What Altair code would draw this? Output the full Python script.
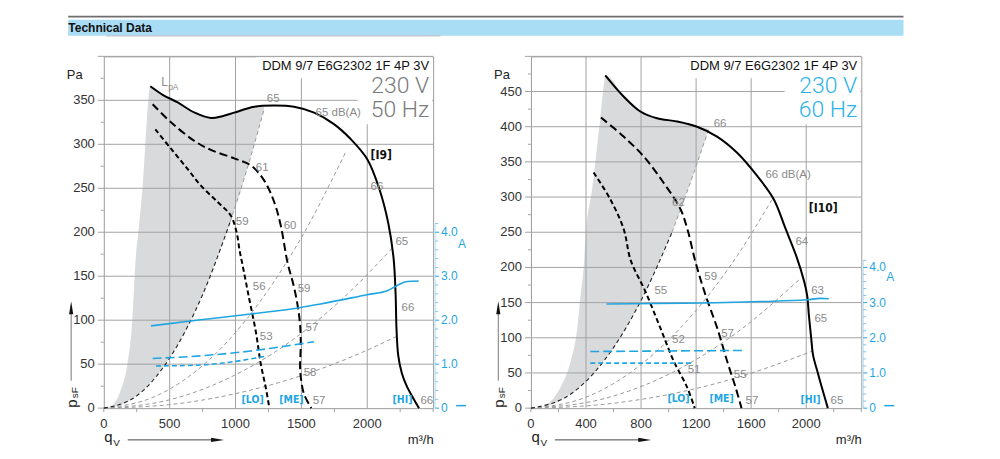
import altair as alt
import pandas as pd

FONT = "Liberation Sans"
NARROW = "'DejaVu Sans Condensed', 'Liberation Sans'"
GRID = "#a3a3a3"
GRAYTXT = "#8a8a8a"
BLUE = "#1fa6e2"
SHADE = "#d9dadc"
PA_PER_AMP = 50  # the current axis is drawn so that 1 A sits at 50 Pa

# ---------------- LEFT PANEL : 230 V 50 Hz ----------------
L_XMAX, L_YMAX = 2500, 400
L_XTICKS = [0, 500, 1000, 1500, 2000]
L_XGRID = [500, 1000, 1500, 2000]
L_XMINOR = [0, 250, 750, 1250, 1750, 2250, 2500]
L_YTICKS = [0, 50, 100, 150, 200, 250, 300, 350]
L_YGRID = [50, 100, 150, 200, 250, 300, 350, 400]
L_YMINOR = [25, 75, 125, 175, 225, 275, 325, 375]

L_SHADE_X = [0, 60, 118, 182, 212, 227, 240, 262, 295, 328, 353, 450, 561, 690, 813, 900, 990, 1100, 1217]
L_SHADE_TOP = [0, 3, 16, 53, 91, 129, 165, 200, 253, 329, 366, 356, 347.6, 336, 330, 332, 336, 341, 343]
L_SHADE_BOT = [0, 0.8, 3.2, 7.6, 10.3, 11.8, 13.2, 15.8, 20, 24.7, 28.7, 46.6, 72, 109, 152, 186, 225, 278, 340]

L_HI_X = [353, 450, 561, 690, 813, 900, 990, 1141, 1293, 1444, 1596, 1747, 1874, 2000, 2090, 2160, 2200, 2215, 2222, 2235, 2262, 2300, 2350, 2393]
L_HI_Y = [366, 356, 347.6, 336, 330, 332, 336, 342.7, 344, 342.7, 336, 323, 306, 283, 250, 210, 170, 130, 90, 60, 40, 25, 11, 0]
L_ME_X = [371, 510, 686, 813, 990, 1116, 1217, 1293, 1343, 1394, 1440, 1470, 1490, 1495, 1490, 1500, 1520, 1575]
L_ME_Y = [345.6, 325, 304, 293.6, 284, 276, 259, 234.5, 208, 166, 140, 118, 95, 72, 45, 30, 16, 0]
L_LO_X = [391, 510, 636, 737, 864, 964, 1008, 1030, 1053, 1103, 1154, 1192, 1230, 1257]
L_LO_Y = [317, 295, 272, 253, 234.5, 219, 200, 180, 163, 125, 87, 50, 23, 0]

L_SYS_DARK_X = [0, 250, 500, 750, 960]
L_SYS_DARK_Y = [0, 14, 57, 129, 212]
L_SYS_TOP_X = [960, 1100, 1217]
L_SYS_TOP_Y = [212, 278, 340]
L_SYS1_X = [0, 400, 800, 1200, 1500, 1836]
L_SYS1_Y = [0, 14, 55, 124, 194, 291]
L_SYS2_X = [0, 500, 1000, 1500, 1900, 2202]
L_SYS2_Y = [0, 9.5, 38, 85, 137, 184]
L_SYS3_X = [0, 500, 1000, 1500, 2000, 2227]
L_SYS3_Y = [0, 4, 16.5, 37, 66, 82]

L_CUR_HI_X = [358, 737, 1116, 1495, 1646, 2000, 2152, 2227, 2303, 2391]
L_CUR_HI_A = [1.87, 2.01, 2.14, 2.29, 2.37, 2.58, 2.67, 2.79, 2.88, 2.89]
L_CUR_ME_X = [371, 737, 1116, 1400, 1596]
L_CUR_ME_A = [1.13, 1.19, 1.30, 1.42, 1.51]
L_CUR_LO_X = [396, 737, 990, 1242]
L_CUR_LO_A = [0.96, 0.98, 1.06, 1.19]

L_LBL_T = ["65", "65 dB(A)", "61", "66", "59", "60", "65", "56", "59", "66", "57", "53", "58", "57", "66"]
L_LBL_X = [1237, 1608, 1154, 2025, 1002, 1366, 2214, 1131, 1472, 2260, 1532, 1184, 1517, 1586, 2404]
L_LBL_Y = [352, 336, 273, 251, 212, 207.6, 189, 138, 135, 114, 91, 81, 40, 8, 8]
L_BR_T = ["[LO]", "[ME]", "[HI]"]
L_BR_XEND = [1214, 1517, 2343]
L_BR_Y = [9, 9, 9]

# ---------------- RIGHT PANEL : 230 V 60 Hz ----------------
R_XMAX, R_YMAX = 2400, 500
R_XTICKS = [0, 400, 800, 1200, 1600, 2000]
R_XGRID = [400, 800, 1200, 1600, 2000]
R_XMINOR = [0, 200, 600, 1000, 1400, 1800, 2200, 2400]
R_YTICKS = [0, 50, 100, 150, 200, 250, 300, 350, 400, 450]
R_YGRID = [50, 100, 150, 200, 250, 300, 350, 400, 450, 500]
R_YMINOR = [25, 75, 125, 175, 225, 275, 325, 375, 425, 475]

R_SHADE_X = [0, 68, 215, 289, 337, 361, 386, 394, 448, 503, 545, 673, 795, 916, 1061, 1207, 1292]
R_SHADE_TOP = [0, 1.4, 29.6, 67, 114, 161, 208, 235, 316, 410, 473, 443, 421.6, 412, 407.5, 400, 397]
R_SHADE_BOT = [0, 1.1, 11, 20, 27, 31, 35.6, 37, 48, 60.5, 71, 108, 151, 200.5, 269, 348, 397]

R_HI_X = [540, 673, 795, 916, 1061, 1207, 1352, 1498, 1644, 1764, 1850, 1930, 1985, 2007, 2019, 2036, 2050, 2080, 2120, 2157]
R_HI_Y = [473, 443, 421.6, 412, 407.5, 400, 386, 363, 330, 297, 255, 215, 180, 160, 133, 100, 75, 53, 25, 0]
R_ME_X = [509, 673, 818, 965, 1086, 1140, 1195, 1268, 1353, 1425, 1486, 1530]
R_ME_Y = [413, 386, 358, 320, 283, 252, 208, 161, 114, 67, 30, 0]
R_LO_X = [455, 576, 673, 725, 831, 940, 1037, 1134, 1190]
R_LO_Y = [335, 297, 255, 210, 166, 114, 67, 30, 0]

R_SYS_DARK_X = [0, 300, 600, 800, 1025]
R_SYS_DARK_Y = [0, 21.5, 86, 153, 250]
R_SYS_TOP_X = [1025, 1150, 1292]
R_SYS_TOP_Y = [250, 316, 397]
R_SYS1_X = [0, 400, 800, 1200, 1500, 1753]
R_SYS1_Y = [0, 15.5, 62, 139, 217, 297]
R_SYS2_X = [0, 500, 1000, 1500, 1946]
R_SYS2_Y = [0, 12, 48, 108, 182]
R_SYS3_X = [0, 500, 1000, 1500, 2044]
R_SYS3_Y = [0, 4.9, 19.4, 43.6, 81]

R_CUR_HI_X = [548, 1100, 1668, 2007, 2104, 2164]
R_CUR_HI_A = [2.96, 2.98, 3.03, 3.08, 3.12, 3.11]
R_CUR_ME_X = [431, 1546]
R_CUR_ME_A = [1.61, 1.64]
R_CUR_LO_X = [431, 1171]
R_CUR_LO_A = [1.28, 1.28]

R_LBL_T = ["66", "62", "66 dB(A)", "64", "59", "55", "63", "65", "52", "57", "51", "55", "57", "65"]
R_LBL_X = [1328, 1025, 1704, 1922, 1260, 897, 2036, 2060, 1025, 1382, 1139, 1474, 1559, 2177]
R_LBL_Y = [403.7, 292, 331, 236, 187, 167, 167, 126, 96.7, 105.6, 54.5, 47.5, 10.8, 9.8]
R_BR_T = ["[LO]", "[ME]", "[HI]"]
R_BR_XEND = [1153, 1474, 2104]
R_BR_Y = [13, 13, 11]

# current axis (A)
CUR_TICKS = [0, 1, 2, 3, 4]
CUR_TICK_LABELS = ["0", "1.0", "2.0", "3.0", "4.0"]
CUR_MINOR = [0.2, 0.4, 0.6, 0.8, 1.2, 1.4, 1.6, 1.8, 2.2, 2.4, 2.6, 2.8, 3.2, 3.4, 3.6, 3.8, 4.2]
CUR_UNIT_POS = [3.74]

TITLE = "DDM 9/7 E6G2302 1F 4P 3V"

W_L, W_R, H = 330, 331, 352.5
ONE = pd.DataFrame({"a": [0]})


def curve(xs, ys, name="c"):
    d = pd.DataFrame({"x": xs, "y": ys})
    d["i"] = range(len(d))
    d["name"] = name
    return d


def pix_rect(x, x2, y, y2, color, opacity=1.0):
    return alt.Chart(ONE).mark_rect(color=color, opacity=opacity).encode(
        x=alt.value(x), x2=alt.value(x2), y=alt.value(y), y2=alt.value(y2))


def pix_text(txt, x, y, **kw):
    return alt.Chart(ONE).mark_text(text=txt, **kw).encode(x=alt.value(x), y=alt.value(y))


def panel(W, xmax, ymax, xt, xg, xminor, yt, yg, yminor, shade, hi, me, lo, dark, top, sys, cur, lbl, br,
          tag, freq, freq_color, boxes, header=False, anchor=None):
    X = alt.Scale(domain=[0, xmax], nice=False, zero=False)
    Y = alt.Scale(domain=[0, ymax], nice=False, zero=False)

    def xe(f="x"):
        return alt.X(f + ":Q", scale=X, axis=None)

    def ye(f="y"):
        return alt.Y(f + ":Q", scale=Y, axis=None)

    sx, stop, sbot = shade
    sdf = pd.DataFrame({"x": sx, "y": stop, "l": sbot})
    L = [alt.Chart(sdf).mark_area(color=SHADE, interpolate="monotone").encode(
        x=xe(), y=ye(), y2="l:Q")]

    # grid, ticks and tick labels
    L.append(alt.Chart(pd.DataFrame({"x": xg})).mark_rule(color=GRID, strokeWidth=1).encode(
        x=xe(), y=alt.value(0), y2=alt.value(H)))
    L.append(alt.Chart(pd.DataFrame({"y": yg})).mark_rule(color=GRID, strokeWidth=1).encode(
        y=ye(), x=alt.value(-6), x2=alt.value(W)))
    L.append(alt.Chart(pd.DataFrame({"y": [0]})).mark_rule(color=GRID, strokeWidth=1).encode(
        y=ye(), x=alt.value(-6), x2=alt.value(0)))
    L.append(alt.Chart(pd.DataFrame({"x": xminor})).mark_rule(color=GRID).encode(
        x=xe(), y=alt.value(H), y2=alt.value(H + 4)))
    L.append(alt.Chart(pd.DataFrame({"y": yminor})).mark_rule(color=GRID).encode(
        y=ye(), x=alt.value(-3), x2=alt.value(0)))
    L.append(alt.Chart(pd.DataFrame({"x": xt, "t": [str(v) for v in xt]})).mark_text(
        align="center", baseline="middle", font=FONT, fontSize=13, color="#333").encode(
        x=xe(), y=alt.value(H + 15.5), text="t:N"))
    L.append(alt.Chart(pd.DataFrame({"y": yt, "t": [str(v) for v in yt]})).mark_text(
        align="right", baseline="middle", font=FONT, fontSize=13, color="#333").encode(
        y=ye(), x=alt.value(-9), text="t:N"))

    for (bx, by2) in boxes:
        L.append(pix_rect(bx, W - 1, 1, by2, "white"))

    sysdf = pd.concat([curve(*top, "t")] + [curve(xs, ys, f"s{k}") for k, (xs, ys) in enumerate(sys)])
    L.append(alt.Chart(sysdf).mark_line(color="#9a9a9a", strokeWidth=1, strokeDash=[4, 3],
                                        interpolate="monotone").encode(
        x=xe(), y=ye(), detail="name:N", order="i:Q"))
    L.append(alt.Chart(curve(*dark)).mark_line(color="#222", strokeWidth=1.1, strokeDash=[4, 3],
                                               interpolate="monotone").encode(
        x=xe(), y=ye(), order="i:Q"))
    L.append(alt.Chart(curve(*hi)).mark_line(color="black", strokeWidth=2, interpolate="catmull-rom").encode(
        x=xe(), y=ye(), order="i:Q"))
    L.append(alt.Chart(curve(*me)).mark_line(color="black", strokeWidth=2, strokeDash=[8, 4],
                                             interpolate="catmull-rom").encode(
        x=xe(), y=ye(), order="i:Q"))
    L.append(alt.Chart(curve(*lo)).mark_line(color="black", strokeWidth=2, strokeDash=[5, 3],
                                             interpolate="catmull-rom").encode(
        x=xe(), y=ye(), order="i:Q"))

    # ----- currents (A), drawn on the Pa scale at 50 Pa per A -----
    dashes = [None, [9, 4], [5, 3]]
    for (cx, ca), dash in zip(cur, dashes):
        kw = dict(color=BLUE, strokeWidth=1.6, interpolate="monotone")
        if dash:
            kw["strokeDash"] = dash
        L.append(alt.Chart(pd.DataFrame({"x": cx, "a": ca, "i": range(len(cx))})).transform_calculate(
            y=f"datum.a * {PA_PER_AMP}").mark_line(**kw).encode(x=xe(), y=ye(), order="i:Q"))
    L.append(alt.Chart(pd.DataFrame({"a": [0.0], "b": [4.2]})).transform_calculate(
        y=f"datum.a * {PA_PER_AMP}", y2=f"datum.b * {PA_PER_AMP}").mark_rule(color="#b5e0f5").encode(
        y=ye(), y2="y2:Q", x=alt.value(W + 2)))
    L.append(alt.Chart(pd.DataFrame({"a": CUR_MINOR})).transform_calculate(
        y=f"datum.a * {PA_PER_AMP}").mark_rule(color="#7cc8ee").encode(
        y=ye(), x=alt.value(W + 2), x2=alt.value(W + 5)))
    L.append(alt.Chart(pd.DataFrame({"a": CUR_TICKS})).transform_calculate(
        y=f"datum.a * {PA_PER_AMP}").mark_rule(color=BLUE).encode(
        y=ye(), x=alt.value(W + 2), x2=alt.value(W + 6)))
    L.append(alt.Chart(pd.DataFrame({"a": CUR_TICKS, "t": CUR_TICK_LABELS})).transform_calculate(
        y=f"datum.a * {PA_PER_AMP}").mark_text(
        align="left", baseline="middle", font=FONT, fontSize=12, color=BLUE).encode(
        y=ye(), x=alt.value(W + 8), text="t:N"))
    L.append(alt.Chart(pd.DataFrame({"a": CUR_UNIT_POS})).transform_calculate(
        y=f"datum.a * {PA_PER_AMP}").mark_text(
        text="A", align="left", baseline="middle", font=FONT, fontSize=12, color=BLUE).encode(
        y=ye(), x=alt.value(W + 25)))
    L.append(alt.Chart(ONE).mark_rule(color=BLUE, strokeWidth=1.5).encode(
        y=alt.value(H - 2.5), x=alt.value(W + 23), x2=alt.value(W + 33)))

    # ----- labels -----
    lt, lx, ly = lbl
    L.append(alt.Chart(pd.DataFrame({"x": lx, "y": ly, "t": lt})).mark_text(
        align="left", baseline="middle", font=FONT, fontSize=11.5, color=GRAYTXT).encode(
        x=xe(), y=ye(), text="t:N"))
    bt, bx_, by_ = br
    L.append(alt.Chart(pd.DataFrame({"x": bx_, "y": by_, "t": bt})).mark_text(
        align="right", baseline="middle", font=NARROW, fontWeight="bold", fontSize=10.5, color=BLUE).encode(
        x=xe(), y=ye(), text="t:N"))
    tx, ty, tt = tag
    L.append(alt.Chart(pd.DataFrame({"x": [tx], "y": [ty], "t": [tt]})).mark_text(
        align="left", baseline="middle", font=NARROW, fontWeight="bold", fontSize=12, color="#111").encode(
        x=xe(), y=ye(), text="t:N"))
    L.append(pix_text(TITLE, W - 4, 10, align="right", baseline="middle", font=FONT, fontSize=13,
                      color="#111"))
    L.append(pix_text("230 V", W - 4, 29.5, align="right", baseline="middle", font="Roboto",
                      fontWeight=300, fontSize=23, color=freq_color))
    L.append(pix_text(freq, W - 4, 54, align="right", baseline="middle", font="Roboto",
                      fontWeight=300, fontSize=23, color=freq_color))
    L.append(pix_text("Pa", -37, 19, align="left", baseline="middle", font=FONT, fontSize=13, color="#222"))
    L.append(pix_text("q", 0.5, 386, align="left", baseline="alphabetic", font=FONT, fontSize=15,
                      color="#222"))
    L.append(pix_text("V", 9.5, 390, align="left", baseline="alphabetic", font=FONT, fontSize=10,
                      color="#222"))
    L.append(alt.Chart(ONE).mark_rule(color="#444", strokeWidth=1).encode(
        x=alt.value(24), x2=alt.value(110), y=alt.value(384.3)))
    L.append(alt.Chart(ONE).mark_point(shape="M -1 -0.32 L 1 0 L -1 0.32 Z", filled=True, color="#111",
                                       size=169, opacity=1).encode(
        x=alt.value(114), y=alt.value(384.3)))
    L.append(pix_text("m³/h", W + 0.5, 388, align="right", baseline="alphabetic", font=FONT,
                      fontSize=13, color="#222"))
    L.append(pix_text("p", -32, 352, align="left", baseline="middle", angle=270, font=FONT,
                      fontSize=15, color="#222"))
    L.append(pix_text("sF", -28.5, 342.5, align="left", baseline="middle", angle=270, font=FONT,
                      fontSize=10, color="#222"))
    L.append(alt.Chart(ONE).mark_rule(color="#777", strokeWidth=1).encode(
        x=alt.value(-32.7), y=alt.value(325), y2=alt.value(258)))
    L.append(alt.Chart(ONE).mark_point(shape="M -0.32 1 L 0 -1 L 0.32 1 Z", filled=True, color="#111",
                                       size=169, opacity=1).encode(
        x=alt.value(-32.7), y=alt.value(252)))
    if header:
        L.append(pix_text("L", 57.5, 26, align="left", baseline="middle", font=FONT, fontSize=12,
                          color=GRAYTXT))
        L.append(pix_text("pA", 64.5, 31, align="left", baseline="middle", font=FONT, fontSize=8.5,
                          color=GRAYTXT))
        L.append(pix_rect(-35.7, 801.3, -40.7, -38.9, "#6e6e6e"))
        L.append(pix_rect(-35.7, 801.3, -36.7, -20.7, "#a9dcf5"))
        L.append(pix_text("Technical Data", -35.5, -28.3, align="left", baseline="middle", font=FONT,
                          fontWeight="bold", fontSize=12, color="#111"))
        L.append(alt.Chart(ONE).mark_rule(color="#b9b9b9").encode(
            x=alt.value(2.5), x2=alt.value(337.3), y=alt.value(-20.5)))
    if anchor is not None:
        ax, ay = anchor
        L.append(pix_rect(ax, ax + 1, ay, ay + 1, "white", opacity=0))

    return alt.layer(*L).properties(width=W, height=H)


left = panel(
    W_L, L_XMAX, L_YMAX, L_XTICKS, L_XGRID, L_XMINOR, L_YTICKS, L_YGRID, L_YMINOR,
    (L_SHADE_X, L_SHADE_TOP, L_SHADE_BOT),
    (L_HI_X, L_HI_Y), (L_ME_X, L_ME_Y), (L_LO_X, L_LO_Y),
    (L_SYS_DARK_X, L_SYS_DARK_Y), (L_SYS_TOP_X, L_SYS_TOP_Y),
    [(L_SYS1_X, L_SYS1_Y), (L_SYS2_X, L_SYS2_Y), (L_SYS3_X, L_SYS3_Y)],
    [(L_CUR_HI_X, L_CUR_HI_A), (L_CUR_ME_X, L_CUR_ME_A), (L_CUR_LO_X, L_CUR_LO_A)],
    (L_LBL_T, L_LBL_X, L_LBL_Y), (L_BR_T, L_BR_XEND, L_BR_Y),
    (2025, 288, "[I9]"), "50 Hz", "#7a7a7a", [(152.3, 22), (254.5, 68)],
    header=True, anchor=(-102.7, -55),
)
right = panel(
    W_R, R_XMAX, R_YMAX, R_XTICKS, R_XGRID, R_XMINOR, R_YTICKS, R_YGRID, R_YMINOR,
    (R_SHADE_X, R_SHADE_TOP, R_SHADE_BOT),
    (R_HI_X, R_HI_Y), (R_ME_X, R_ME_Y), (R_LO_X, R_LO_Y),
    (R_SYS_DARK_X, R_SYS_DARK_Y), (R_SYS_TOP_X, R_SYS_TOP_Y),
    [(R_SYS1_X, R_SYS1_Y), (R_SYS2_X, R_SYS2_Y), (R_SYS3_X, R_SYS3_Y)],
    [(R_CUR_HI_X, R_CUR_HI_A), (R_CUR_ME_X, R_CUR_ME_A), (R_CUR_LO_X, R_CUR_LO_A)],
    (R_LBL_T, R_LBL_X, R_LBL_Y), (R_BR_T, R_BR_XEND, R_BR_Y),
    (2019, 285, "[I10]"), "60 Hz", "#2ab3e8", [(149.3, 22), (254.3, 68)],
    anchor=(1000 - 530.7 - 1, 459 - 55 - 1),
)

chart = alt.hconcat(left, right, spacing=98, bounds="flush").properties(
    padding=0
).configure_view(stroke="#9c9c9c", strokeWidth=1)

chart.save("out.html", embed_options={"renderer": "svg", "actions": False})
